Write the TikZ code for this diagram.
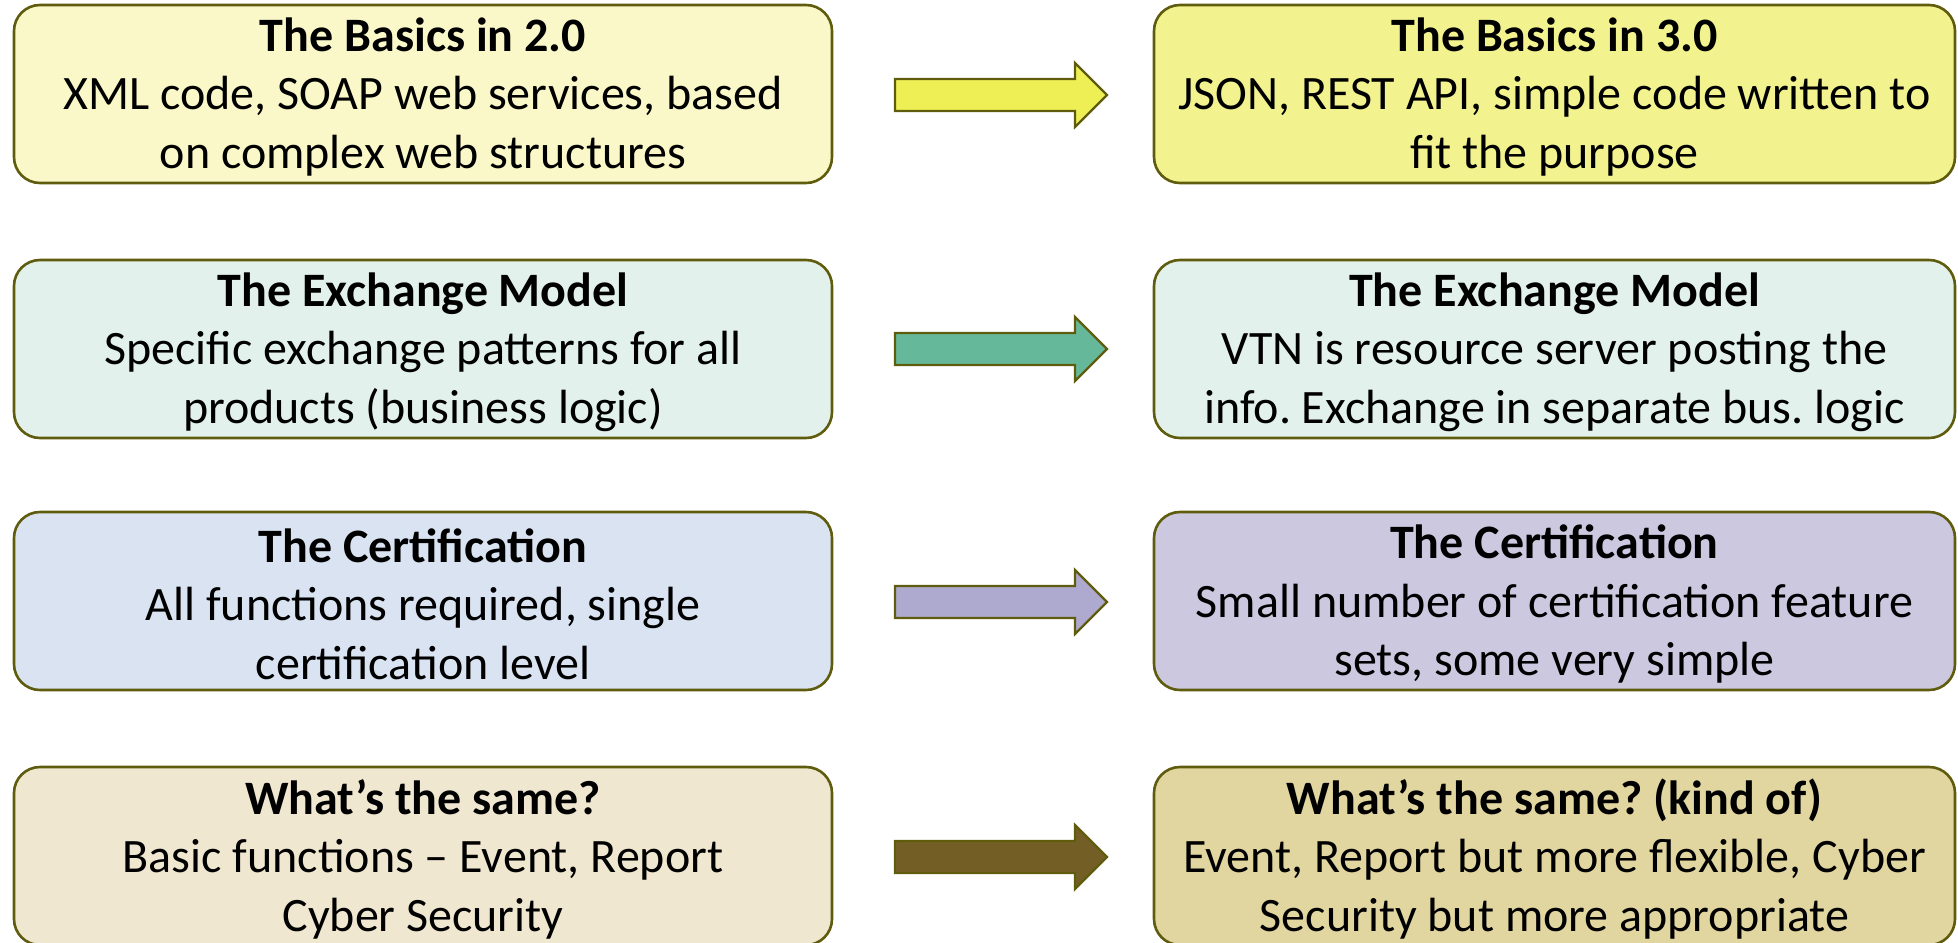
\documentclass[tikz,border=0pt]{standalone}
\usepackage{fontspec}
\setmainfont{Carlito}
\definecolor{edge}{HTML}{5F5C0E}
\definecolor{yA}{HTML}{FAF8C8}
\definecolor{yB}{HTML}{F2F38E}
\definecolor{yArr}{HTML}{EDEF55}
\definecolor{gA}{HTML}{E2F1EB}
\definecolor{gB}{HTML}{E2F1EB}
\definecolor{gArr}{HTML}{66B89A}
\definecolor{bA}{HTML}{DAE3F2}
\definecolor{bB}{HTML}{CBC8E0}
\definecolor{bArr}{HTML}{ADA9CF}
\definecolor{tA}{HTML}{F0E7D0}
\definecolor{tB}{HTML}{E1D5A0}
\definecolor{tArr}{HTML}{735F26}
\tikzset{
  card/.style={draw=edge, line width=1.3pt, rounded corners=13pt, inner sep=0pt},
  leftcard/.style={card, minimum width=409pt, minimum height=89pt},
  rightcard/.style={card, minimum width=400.5pt, minimum height=89pt},
  cardtext/.style={align=center, inner sep=0pt, font=\fontsize{24}{29.3}\selectfont\frenchspacing},
  blockarrow/.style={draw=edge, line width=1.1pt, line join=miter},
}
\begin{document}
\begin{tikzpicture}[x=0.5pt, y=-0.5pt]
\useasboundingbox (0,0) rectangle (1958,942);

% left column
\node[leftcard, fill=yA] (l1) at (423,94) {};
\node[leftcard, fill=gA] (l2) at (423,349) {};
\node[leftcard, fill=bA] (l3) at (423,601) {};
\node[leftcard, fill=tA] (l4) at (423,856) {};
\node[cardtext] (l1t) at ([yshift=-1.5pt]l1.center) {\textbf{The Basics in 2.0}\\XML code, SOAP web services, based\\on complex web structures};
\node[cardtext] (l2t) at ([yshift=-1.5pt]l2.center) {\textbf{The Exchange Model}\\Specific exchange patterns for all\\products (business logic)};
\node[cardtext] (l3t) at ([yshift=-1.5pt]l3.center) {\textbf{The Certification}\\All functions required, single\\certification level};
\node[cardtext] (l4t) at ([yshift=-1.5pt]l4.center) {\textbf{What’s the same?}\\Basic functions – Event, Report\\Cyber Security};

% right column
\node[rightcard, fill=yB] (r1) at (1554.5,94) {};
\node[rightcard, fill=gB] (r2) at (1554.5,349) {};
\node[rightcard, fill=bB] (r3) at (1554.5,601) {};
\node[rightcard, fill=tB] (r4) at (1554.5,856) {};
\node[cardtext] (r1t) at ([yshift=-1.5pt]r1.center) {\textbf{The Basics in 3.0}\\JSON, REST API, simple code written to\\fit the purpose};
\node[cardtext] (r2t) at ([yshift=-1.5pt]r2.center) {\textbf{The Exchange Model}\\VTN is resource server posting the\\info. Exchange in separate bus. logic};
\node[cardtext] (r3t) at ([yshift=-1.5pt]r3.center) {\textbf{The Certification}\\Small number of certification feature\\sets, some very simple};
\node[cardtext] (r4t) at ([yshift=-1.5pt]r4.center) {\textbf{What’s the same? (kind of)}\\Event, Report but more flexible, Cyber\\Security but more appropriate};

% block arrows between the columns
\foreach \cy/\col in {95/yArr, 349/gArr, 602/bArr, 857/tArr}{
  \draw[blockarrow, fill=\col]
    (895,\cy-16) -- (1075,\cy-16) -- (1075,\cy-32) -- (1107,\cy)
    -- (1075,\cy+32) -- (1075,\cy+16) -- (895,\cy+16) -- cycle;
}
\end{tikzpicture}
\end{document}
